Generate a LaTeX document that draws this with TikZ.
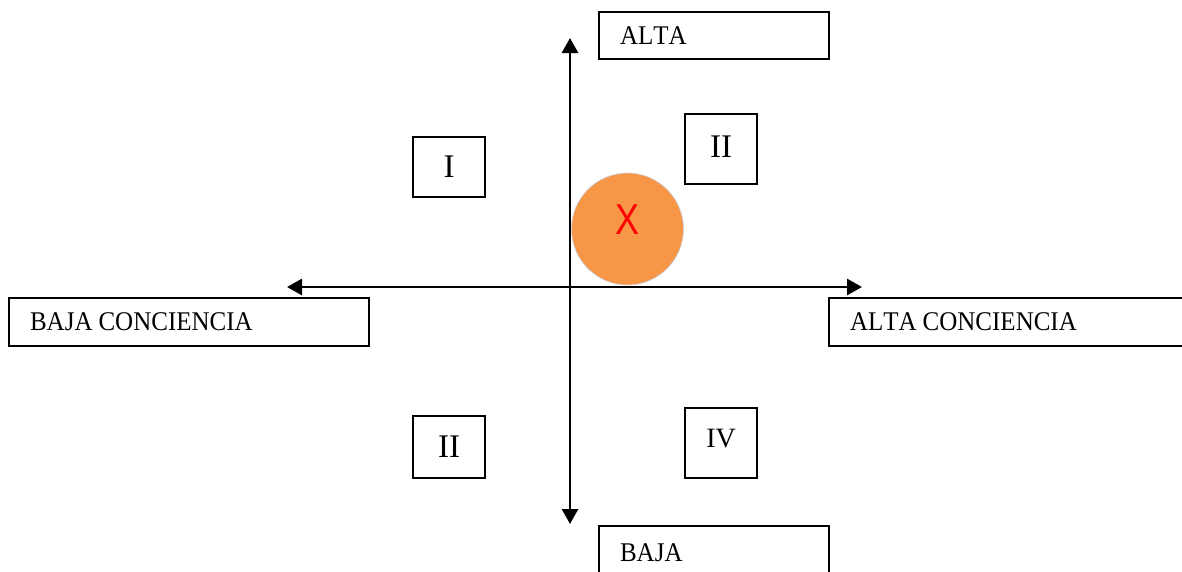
\documentclass[tikz,border=0pt]{standalone}
\usepackage{fontspec}
\setmainfont[Kerning=Off]{Liberation Serif}
\newfontfamily\markfont{Liberation Sans}
\usetikzlibrary{arrows.meta}
\definecolor{dotorange}{HTML}{F79646}
\definecolor{dotrim}{HTML}{C9D3E3}
\newcommand{\tagtext}[1]{\scalebox{1}[1.08]{#1}}
\newcommand{\tagspace}{\hspace{6pt}}
\begin{document}
\begin{tikzpicture}[x=1pt,y=-1pt,
  axis/.style={line width=2.8pt,{Triangle[length=15pt,width=16pt]}-{Triangle[length=15pt,width=16pt]}},
  tagbox/.style={draw,line width=2.1pt,anchor=north west,inner xsep=21pt,inner ysep=0pt,
    align=left,font=\fontsize{25}{28}\selectfont},
  romanbox/.style={draw,line width=2.1pt,anchor=north west,inner sep=0pt,
    minimum width=72pt,font=\fontsize{33}{35}\selectfont}]
\useasboundingbox (0,0) rectangle (1182,571);

% axis end points
\coordinate (left) at (287,287);
\coordinate (right) at (862,287);
\coordinate (top) at (570,38);
\coordinate (bottom) at (570,524);

% axes
\draw[axis] (left) -- (right);
\draw[axis] (top) -- (bottom);

% axis labels
\node[tagbox,text width=188pt,minimum height=47pt] (alta) at (598,11) {\tagtext{ALTA}};
\node[tagbox,text width=188pt,minimum height=60pt] (baja) at (598,525) {\raisebox{6pt}{\tagtext{BAJA}}};
\node[tagbox,text width=318pt,minimum height=48pt] (bajac) at (8,297) {\tagtext{BAJA\tagspace CONCIENCIA}};
\node[tagbox,text width=318pt,minimum height=48pt] (altac) at (828,297) {\tagtext{ALTA\tagspace CONCIENCIA}};

% quadrant markers
\node[romanbox,minimum height=60pt] (q1) at (412,136) {I};
\node[romanbox,minimum height=70pt] (q2) at (684,113) {\raisebox{4pt}{II}};
\node[romanbox,minimum height=62pt] (q3) at (412,415) {II};
\node[romanbox,minimum height=70pt] (q4) at (684,407) {\raisebox{9pt}{\fontsize{28}{30}\selectfont IV}};

% position of the subject
\node[circle,fill=dotorange,draw=dotrim,line width=0.6pt,minimum size=112pt,inner sep=0pt] (spot) at (627.5,229) {};
\node[text=red,font=\markfont\fontsize{40}{40}\selectfont,inner sep=0pt] (mark) at (627.5,220) {\scalebox{0.9}[1.08]{X}};
\end{tikzpicture}
\end{document}
